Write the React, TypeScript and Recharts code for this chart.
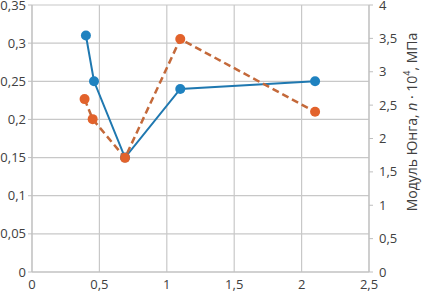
import React from "react";
import { ComposedChart, Line, XAxis, YAxis, CartesianGrid } from "recharts";

// x positions (both series) and values
const STRENGTH_X = [0.4, 0.46, 0.69, 1.1, 2.1];
const STRENGTH_Y = [0.31, 0.25, 0.15, 0.24, 0.25];
const MODULUS_X = [0.39, 0.45, 0.69, 1.1, 2.1];
const MODULUS_Y = [2.59, 2.29, 1.71, 3.49, 2.4];

const X_TICKS = [0, 0.5, 1, 1.5, 2, 2.5];
const LEFT_TICKS = [0, 0.05, 0.1, 0.15, 0.2, 0.25, 0.3, 0.35];
const RIGHT_TICKS = [0, 0.5, 1, 1.5, 2, 2.5, 3, 3.5, 4];

const strengthData = STRENGTH_X.map((x, i) => ({ x, y: STRENGTH_Y[i] }));
const modulusData = MODULUS_X.map((x, i) => ({ x, y: MODULUS_Y[i] }));

const FONT = "'Open Sans', 'Noto Sans', sans-serif";
const TICK = { fill: "#404040", fontSize: 13, fontFamily: FONT };
const AXIS_GRAY = "#bfbfbf";
const BLUE = "#1f82c0";
const ORANGE = "#e2622b";

const comma = (v: number) => String(v).replace(".", ",");

function RightTitle() {
  const cx = 413;
  const cy = 122;
  return (
    <text x={cx} y={cy} transform={`rotate(-90 ${cx} ${cy})`} textAnchor="middle" dominantBaseline="middle"
      style={{ fill: "#404040", fontSize: 14, fontFamily: FONT }}>
      <tspan>Модуль Юнга, </tspan>
      <tspan fontStyle="italic">n</tspan>
      <tspan> · 10</tspan>
      <tspan fontSize={9} dy={-5}>4</tspan>
      <tspan dy={5}>, МПа</tspan>
    </text>
  );
}

export default function App() {
  return (
    <div style={{ position: "absolute", left: 0, top: 0, background: "#fff" }}>
      <ComposedChart width={424} height={298} margin={{ top: 5, right: 0, left: 0, bottom: 0 }}>
        <CartesianGrid yAxisId="left" stroke="#c8c8c8" strokeWidth={1.2} />
        <XAxis type="number" dataKey="x" domain={[0, 2.5]} ticks={X_TICKS} tickFormatter={comma}
          height={26} tick={TICK} axisLine={{ stroke: AXIS_GRAY }} tickLine={false} interval={0} allowDataOverflow />
        <YAxis yAxisId="left" domain={[0, 0.35]} ticks={LEFT_TICKS} tickFormatter={comma} width={32}
          tick={TICK} axisLine={{ stroke: AXIS_GRAY }} tickLine={{ stroke: AXIS_GRAY }} tickSize={4} interval={0} />
        <YAxis yAxisId="right" orientation="right" domain={[0, 4]} ticks={RIGHT_TICKS} tickFormatter={comma} width={55}
          tick={{ ...TICK, textAnchor: "start" }} axisLine={{ stroke: AXIS_GRAY }} tickLine={{ stroke: AXIS_GRAY }}
          tickSize={4} tickMargin={6} interval={0} label={<RightTitle />} />
        <Line yAxisId="left" data={strengthData} dataKey="y" type="linear" stroke="#1f78b0" strokeWidth={2}
          dot={{ r: 5, fill: BLUE, stroke: BLUE, strokeWidth: 0 }} isAnimationActive={false} />
        <Line yAxisId="right" data={modulusData} dataKey="y" type="linear" stroke="#c4693a" strokeWidth={2.5}
          strokeDasharray="7 4" dot={{ r: 5, fill: ORANGE, stroke: ORANGE, strokeWidth: 0 }} isAnimationActive={false} />
      </ComposedChart>
    </div>
  );
}
